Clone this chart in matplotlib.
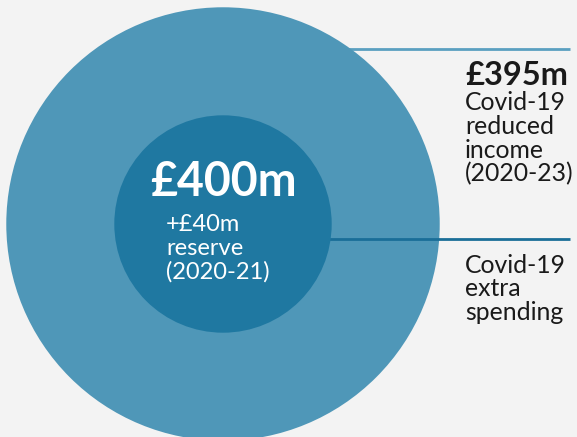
import numpy as np
import matplotlib.pyplot as plt
from matplotlib.patches import Circle

# circle sizes (area, roughly in £m)
circle_names = ["outer", "inner"]
circle_areas = [1590, 400]

inner_title = "£400m"
inner_lines = ["+£40m", "reserve", "(2020-21)"]
right_title = "£395m"
right_top_lines = ["Covid-19", "reduced", "income", "(2020-23)"]
right_bottom_lines = ["Covid-19", "extra", "spending"]

plt.rcParams['font.family'] = ['Lato', 'DejaVu Sans']

fig = plt.figure(figsize=(5.77, 4.37), dpi=100)
fig.patch.set_facecolor("#f3f3f3")
ax = fig.add_axes([0, 0, 1, 1])
ax.set_xlim(0, 577)
ax.set_ylim(437, 0)
ax.set_aspect("equal")
ax.axis("off")

cx, cy = 223, 224
scale = 108.7 / np.sqrt(400)
radii = [scale * np.sqrt(a) for a in circle_areas]
colors = ["#4f97b8", "#1f78a1"]

# pointer lines
ax.plot([330, 570], [49, 49], color="#5a9fc0", lw=2, solid_capstyle="butt", zorder=1)
ax.add_patch(Circle((cx, cy), radii[0], color=colors[0], lw=0, zorder=2))
ax.plot([cx, 570], [239, 239], color="#1a6e98", lw=2, solid_capstyle="butt", zorder=3)
ax.add_patch(Circle((cx, cy), radii[1], color=colors[1], lw=0, zorder=4))

# inner circle text
ax.text(cx, 196, inner_title, color="white", fontsize=33.5, fontweight="bold",
        ha="center", va="baseline", zorder=5)
for i, line in enumerate(inner_lines):
    ax.text(166, 231 + i * 23.8, line, color="white", fontsize=17,
            ha="left", va="baseline", zorder=5)

# right labels
ax.text(465, 85, right_title, color="#1a1a1a", fontsize=23.5, fontweight="bold",
        ha="left", va="baseline")
for i, line in enumerate(right_top_lines):
    ax.text(465, 110 + i * 23.9, line, color="#1a1a1a", fontsize=17.8,
            ha="left", va="baseline")
for i, line in enumerate(right_bottom_lines):
    ax.text(465, 273 + i * 23.3, line, color="#1a1a1a", fontsize=17.8,
            ha="left", va="baseline")

fig.savefig("out.png", dpi=100, facecolor=fig.get_facecolor())
